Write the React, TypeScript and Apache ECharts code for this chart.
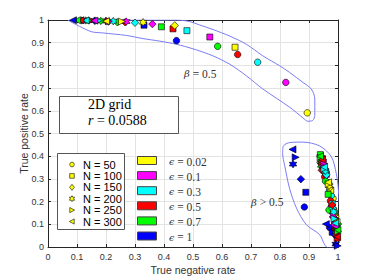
import React, { useEffect, useRef } from "react";
import * as echarts from "echarts";

const nLabels = ["N = 50", "N = 100", "N = 150", "N = 200", "N = 250", "N = 300"];
const epsLabels = ["0.02", "0.1", "0.3", "0.5", "0.7", "1"];
const epsColors = ["#ffff00", "#ff00ff", "#00ffff", "#ff0000", "#00ff00", "#0000ff"];
const xTicks = [0, 0.1, 0.2, 0.3, 0.4, 0.5, 0.6, 0.7, 0.8, 0.9, 1];

// rows: N (50..300), columns: epsilon (0.02..1)
const tnrBeta05 = [
  [0.894, 0.82, 0.723, 0.654, 0.585, 0.443],
  [0.645, 0.558, 0.479, 0.431, 0.391, 0.331],
  [0.437, 0.36, 0.3, 0.266, 0.239, 0.208],
  [0.328, 0.27, 0.225, 0.2, 0.182, 0.16],
  [0.255, 0.21, 0.175, 0.15, 0.14, 0.127],
  [0.2, 0.16, 0.13, 0.112, 0.1, 0.086],
];
const tprBeta05 = [
  [0.591, 0.725, 0.814, 0.848, 0.884, 0.909],
  [0.88, 0.925, 0.953, 0.961, 0.97, 0.977],
  [0.976, 0.982, 0.988, 0.99, 0.99, 0.993],
  [0.99, 0.993, 0.995, 0.996, 0.996, 0.997],
  [0.993, 0.995, 0.997, 0.998, 0.998, 0.998],
  [0.995, 0.997, 0.998, 0.999, 0.999, 0.999],
];
const tnrBeta075 = [
  [0.983, 0.967, 0.971, 0.954, 0.957, 0.884],
  [0.975, 0.96, 0.958, 0.946, 0.939, 0.889],
  [0.972, 0.955, 0.96, 0.944, 0.94, 0.872],
  [0.97, 0.951, 0.956, 0.947, 0.942, 0.845],
  [0.968, 0.95, 0.953, 0.945, 0.94, 0.854],
  [0.966, 0.948, 0.952, 0.944, 0.938, 0.843],
];
const tprBeta075 = [
  [0.214, 0.283, 0.251, 0.309, 0.29, 0.176],
  [0.25, 0.32, 0.327, 0.39, 0.407, 0.241],
  [0.262, 0.345, 0.318, 0.338, 0.372, 0.299],
  [0.27, 0.36, 0.335, 0.355, 0.36, 0.365],
  [0.278, 0.366, 0.345, 0.375, 0.392, 0.395],
  [0.285, 0.372, 0.352, 0.385, 0.4, 0.43],
];
const tnrBeta1 = [
  [0.992, 0.977, 0.977, 0.974, 0.969, 0.971],
  [0.985, 0.989, 0.98, 0.997, 0.966, 0.98],
  [0.99, 0.985, 0.982, 0.98, 1.0, 0.989],
  [0.988, 0.983, 0.985, 0.99, 0.995, 0.992],
  [0.993, 0.99, 0.988, 0.995, 1.0, 0.999],
  [0.995, 0.992, 0.99, 0.997, 0.998, 0.958],
];
const tprBeta1 = [
  [0.134, 0.178, 0.226, 0.203, 0.163, 0.086],
  [0.16, 0.117, 0.19, 0.039, 0.232, 0.065],
  [0.145, 0.13, 0.17, 0.185, 0.101, 0.054],
  [0.15, 0.14, 0.155, 0.08, 0.085, 0.013],
  [0.12, 0.1, 0.125, 0.06, 0.069, 0.005],
  [0.11, 0.09, 0.105, 0.045, 0.075, 0.101],
];

const upperOutlineX = [0.07, 0.109, 0.151, 0.189, 0.27, 0.328, 0.385, 0.443, 0.5, 0.569, 0.627, 0.684, 0.741, 0.833, 0.879, 0.896, 0.913, 0.92, 0.92, 0.908, 0.879, 0.833, 0.799, 0.741, 0.684, 0.627, 0.569, 0.523, 0.489, 0.444, 0.247, 0.07];
const upperOutlineY = [0.998, 0.972, 0.948, 0.943, 0.932, 0.918, 0.907, 0.893, 0.873, 0.842, 0.805, 0.754, 0.696, 0.616, 0.569, 0.554, 0.558, 0.579, 0.652, 0.696, 0.725, 0.769, 0.798, 0.842, 0.893, 0.929, 0.958, 0.978, 0.993, 1.0, 1.0, 0.998];
const lowerOutlineX = [0.81, 0.816, 0.833, 0.879, 0.937, 0.977, 0.994, 1.001, 1.006, 1.01, 0.966, 0.954, 0.937, 0.891, 0.857, 0.833, 0.816, 0.809, 0.81];
const lowerOutlineY = [0.441, 0.451, 0.46, 0.462, 0.445, 0.398, 0.324, 0.258, 0.149, -0.004, -0.004, 0.01, 0.054, 0.098, 0.171, 0.258, 0.36, 0.411, 0.441];

const HEX = "path://M0,-10L2.89,-5L8.66,-5L5.77,0L8.66,5L2.89,5L0,10L-2.89,5L-8.66,5L-5.77,0L-8.66,-5L-2.89,-5Z";
const TRI_R = "path://M-7,-8L8,0L-7,8Z";
const TRI_L = "path://M7,-8L-8,0L7,8Z";
const symbols = ["circle", "rect", "diamond", HEX, TRI_R, TRI_L];
const symbolSizes = [6.5, 6, 7.5, 7.5, 7, 7];

function legendMarker(i: number, cx: number, cy: number) {
  const style = { fill: "#ffff00", stroke: "#000", lineWidth: 0.6 };
  const s = 2.3;
  if (i === 0) return { type: "circle", shape: { cx, cy, r: s }, style };
  if (i === 1) return { type: "rect", shape: { x: cx - s, y: cy - s, width: 2 * s, height: 2 * s }, style };
  if (i === 2) return { type: "polygon", shape: { points: [[cx, cy - 3], [cx + 2.4, cy], [cx, cy + 3], [cx - 2.4, cy]] }, style };
  if (i === 3) {
    const pts: number[][] = [];
    for (let k = 0; k < 12; k++) {
      const a = (Math.PI / 6) * k - Math.PI / 2;
      const r = k % 2 === 0 ? 3 : 1.7;
      pts.push([cx + r * Math.cos(a), cy + r * Math.sin(a)]);
    }
    return { type: "polygon", shape: { points: pts }, style };
  }
  if (i === 4) return { type: "polygon", shape: { points: [[cx - 2.2, cy - 2.6], [cx + 2.6, cy], [cx - 2.2, cy + 2.6]] }, style };
  return { type: "polygon", shape: { points: [[cx + 2.2, cy - 2.6], [cx - 2.6, cy], [cx + 2.2, cy + 2.6]] }, style };
}

export default function App() {
  const ref = useRef<HTMLDivElement>(null);
  useEffect(() => {
    if (!ref.current) return;
    const chart = echarts.init(ref.current, undefined, { renderer: "svg" });
    const groups = [
      [tnrBeta05, tprBeta05],
      [tnrBeta075, tprBeta075],
      [tnrBeta1, tprBeta1],
    ];
    const scatterSeries = nLabels.map((name, i) => {
      const data: any[] = [];
      groups.forEach(([tnr, tpr]) => {
        epsLabels.forEach((_, j) => {
          data.push({ value: [tnr[i][j], tpr[i][j]], itemStyle: { color: epsColors[j] } });
        });
      });
      return {
        name,
        type: "scatter",
        symbol: symbols[i],
        symbolSize: symbolSizes[i],
        itemStyle: { borderColor: "#000", borderWidth: 0.6, opacity: 1 },
        data,
        z: 3,
      };
    });
    const outline = (xs: number[], ys: number[]) => ({
      type: "line",
      data: xs.map((x, k) => [x, ys[k]]),
      smooth: 0.3,
      showSymbol: false,
      symbol: "none",
      clip: true,
      lineStyle: { color: "#7b7bf4", width: 1 },
      z: 2,
      silent: true,
    });

    const graphic: any[] = [];
    // text box
    graphic.push({ type: "rect", shape: { x: 59.5, y: 96.5, width: 119, height: 37 }, style: { fill: "#fff", stroke: "#555", lineWidth: 1 }, z: 10 });
    graphic.push({ type: "text", x: 88, y: 104.5, style: { text: "2D grid", font: "14px 'Liberation Serif', serif", fill: "#000", verticalAlign: "middle" }, z: 11 });
    graphic.push({ type: "text", x: 88, y: 120, style: { text: "{i|r} = 0.0588", font: "14px 'Liberation Serif', serif", fill: "#000", verticalAlign: "middle", rich: { i: { fontStyle: "italic", fontFamily: "Liberation Serif", fontSize: 14 } } }, z: 11 });
    // N legend
    graphic.push({ type: "rect", shape: { x: 57.5, y: 153.5, width: 67, height: 76 }, style: { fill: "#fff", stroke: "#555", lineWidth: 1 }, z: 10 });
    nLabels.forEach((lab, i) => {
      const cy = 164.5 + i * 11.4;
      graphic.push({ ...legendMarker(i, 72, cy), z: 11 });
      graphic.push({ type: "text", x: 83, y: cy, style: { text: lab, font: "11px 'Liberation Sans', Arial, sans-serif", fill: "#000", verticalAlign: "middle" }, z: 11 });
    });
    // epsilon legend
    epsLabels.forEach((lab, j) => {
      const cy = 160.5 + j * 15.1;
      graphic.push({ type: "rect", shape: { x: 137.5, y: cy - 4, width: 19, height: 8 }, style: { fill: epsColors[j], stroke: "#444", lineWidth: 1 }, z: 11 });
      graphic.push({ type: "text", x: 169, y: cy + 1, style: { text: "{i|ϵ} = " + lab, font: "11.5px 'Liberation Serif', serif", fill: "#333", verticalAlign: "middle", rich: { i: { fontStyle: "italic", fontFamily: "DejaVu Serif", fontSize: 9.5 } } }, z: 11 });
    });
    // beta annotations
    graphic.push({ type: "text", x: 184, y: 73.5, style: { text: "{i|β} = 0.5", font: "11.5px 'Liberation Serif', serif", fill: "#333", verticalAlign: "middle", rich: { i: { fontStyle: "italic", fontFamily: "DejaVu Serif", fontSize: 10 } } }, z: 11 });
    graphic.push({ type: "text", x: 251, y: 202, style: { text: "{i|β} > 0.5", font: "11.5px 'Liberation Serif', serif", fill: "#333", verticalAlign: "middle", rich: { i: { fontStyle: "italic", fontFamily: "DejaVu Serif", fontSize: 10 } } }, z: 11 });

    const axisLineStyle = { color: "#262626", width: 1 };
    const labelStyle = { fontSize: 9, color: "#333", fontFamily: "'Liberation Sans', Arial, sans-serif" };
    chart.setOption({
      animation: false,
      grid: { left: 48, top: 20, right: 36, bottom: 31, show: false },
      xAxis: [
        {
          type: "value", min: xTicks[0], max: xTicks[xTicks.length - 1], interval: 0.1, position: "bottom",
          axisLine: { show: true, onZero: false, lineStyle: axisLineStyle },
          axisTick: { show: true, inside: true, length: 3, lineStyle: axisLineStyle },
          axisLabel: { ...labelStyle, margin: 5 },
          splitLine: { show: true, lineStyle: { color: "#e3e3e3", width: 1 } },
          name: "True negative rate", nameLocation: "middle", nameGap: 17, nameMoveOverlap: false,
          nameTextStyle: { fontSize: 10.5, color: "#333", fontFamily: "'Liberation Sans', Arial, sans-serif" },
        },
        {
          type: "value", min: 0, max: 1, interval: 0.1, position: "top",
          axisLine: { show: true, onZero: false, lineStyle: axisLineStyle },
          axisTick: { show: true, inside: true, length: 3, lineStyle: axisLineStyle },
          axisLabel: { show: false }, splitLine: { show: false },
        },
      ],
      yAxis: [
        {
          type: "value", min: 0, max: 1, interval: 0.1, position: "left",
          axisLine: { show: true, onZero: false, lineStyle: axisLineStyle },
          axisTick: { show: true, inside: true, length: 3, lineStyle: axisLineStyle },
          axisLabel: { ...labelStyle, margin: 4 },
          splitLine: { show: true, lineStyle: { color: "#e3e3e3", width: 1 } },
          name: "True positive rate", nameLocation: "middle", nameGap: 19, nameMoveOverlap: false,
          nameTextStyle: { fontSize: 10.5, color: "#333", fontFamily: "'Liberation Sans', Arial, sans-serif" },
        },
        {
          type: "value", min: 0, max: 1, interval: 0.1, position: "right",
          axisLine: { show: true, onZero: false, lineStyle: axisLineStyle },
          axisTick: { show: true, inside: true, length: 3, lineStyle: axisLineStyle },
          axisLabel: { show: false }, splitLine: { show: false },
        },
      ],
      series: [
        outline(upperOutlineX, upperOutlineY),
        outline(lowerOutlineX, lowerOutlineY),
        ...scatterSeries,
      ],
      graphic,
    });
    return () => chart.dispose();
  }, []);
  return <div ref={ref} style={{ position: "fixed", left: 0, top: 0, width: 374, height: 280, background: "#fff" }} />;
}
